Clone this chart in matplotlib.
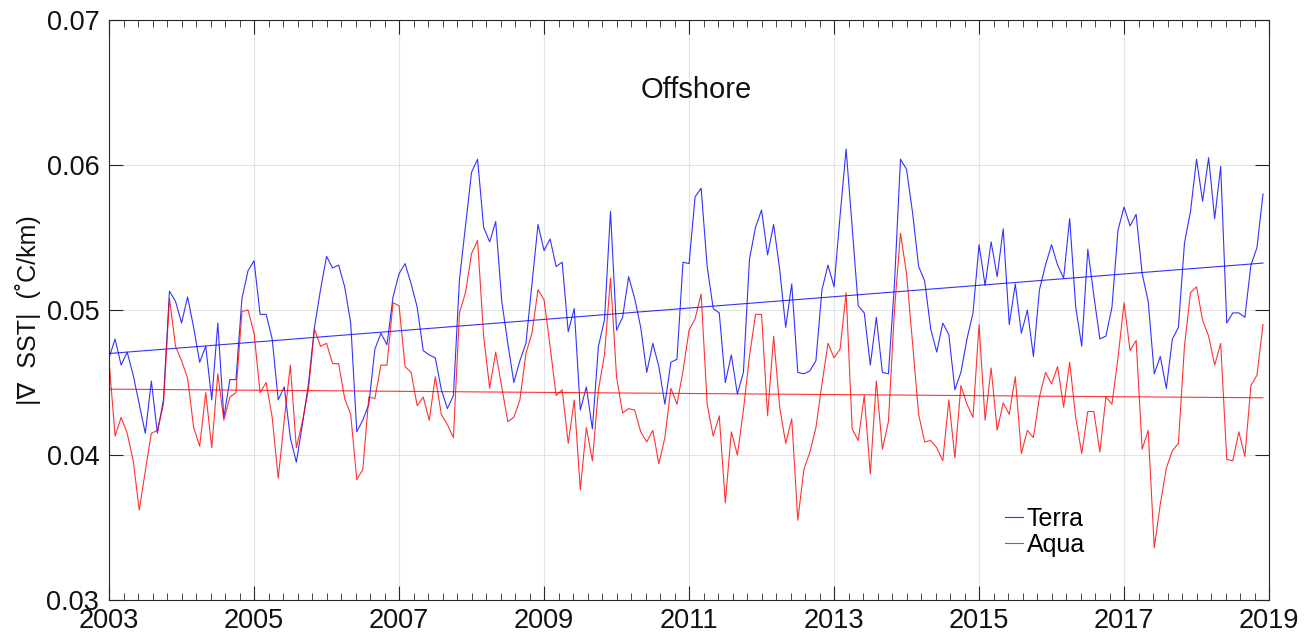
import numpy as np
import matplotlib
matplotlib.use("Agg")
import matplotlib.pyplot as plt
from matplotlib.ticker import MultipleLocator

plt.rcParams['font.family'] = ['Liberation Sans', 'DejaVu Sans']

# Monthly mean |grad SST| (degC/km), Jan 2003 - Dec 2018
start_year = 2003
terra = [
    0.0467, 0.0480, 0.0462, 0.0471, 0.0455, 0.0435, 0.0415, 0.0451, 0.0415, 0.0438, 0.0513, 0.0506,
    0.0491, 0.0509, 0.0488, 0.0464, 0.0475, 0.0438, 0.0491, 0.0426, 0.0452, 0.0452, 0.0508, 0.0527,
    0.0534, 0.0497, 0.0497, 0.0480, 0.0438, 0.0447, 0.0412, 0.0395, 0.0421, 0.0449, 0.0488, 0.0514,
    0.0537, 0.0529, 0.0531, 0.0516, 0.0491, 0.0416, 0.0424, 0.0435, 0.0473, 0.0484, 0.0476, 0.0509,
    0.0525, 0.0532, 0.0518, 0.0502, 0.0472, 0.0469, 0.0467, 0.0445, 0.0432, 0.0441, 0.0521, 0.0558,
    0.0595, 0.0604, 0.0557, 0.0547, 0.0561, 0.0506, 0.0477, 0.0450, 0.0465, 0.0477, 0.0518, 0.0559,
    0.0541, 0.0549, 0.0530, 0.0533, 0.0485, 0.0501, 0.0431, 0.0447, 0.0418, 0.0475, 0.0493, 0.0568,
    0.0486, 0.0495, 0.0523, 0.0508, 0.0488, 0.0457, 0.0477, 0.0461, 0.0435, 0.0464, 0.0466, 0.0533,
    0.0532, 0.0578, 0.0584, 0.0530, 0.0501, 0.0498, 0.0450, 0.0469, 0.0442, 0.0457, 0.0535, 0.0557,
    0.0569, 0.0538, 0.0559, 0.0528, 0.0488, 0.0518, 0.0457, 0.0456, 0.0458, 0.0465, 0.0514, 0.0531,
    0.0516, 0.0565, 0.0611, 0.0557, 0.0503, 0.0498, 0.0462, 0.0495, 0.0457, 0.0456, 0.0518, 0.0604,
    0.0597, 0.0567, 0.0530, 0.0520, 0.0487, 0.0471, 0.0491, 0.0483, 0.0445, 0.0457, 0.0480, 0.0498,
    0.0545, 0.0517, 0.0547, 0.0523, 0.0556, 0.0490, 0.0518, 0.0484, 0.0500, 0.0468, 0.0514, 0.0531,
    0.0545, 0.0531, 0.0522, 0.0563, 0.0502, 0.0475, 0.0542, 0.0510, 0.0480, 0.0482, 0.0502, 0.0555,
    0.0571, 0.0558, 0.0566, 0.0525, 0.0506, 0.0456, 0.0468, 0.0446, 0.0480, 0.0488, 0.0546, 0.0568,
    0.0604, 0.0575, 0.0605, 0.0563, 0.0599, 0.0491, 0.0498, 0.0498, 0.0495, 0.0531, 0.0543, 0.0580,
]
aqua = [
    0.0465, 0.0413, 0.0426, 0.0415, 0.0396, 0.0362, 0.0389, 0.0415, 0.0417, 0.0435, 0.0508, 0.0475,
    0.0465, 0.0453, 0.0419, 0.0406, 0.0443, 0.0405, 0.0456, 0.0424, 0.0440, 0.0443, 0.0499, 0.0500,
    0.0484, 0.0443, 0.0450, 0.0426, 0.0384, 0.0424, 0.0462, 0.0405, 0.0423, 0.0445, 0.0487, 0.0475,
    0.0477, 0.0463, 0.0463, 0.0439, 0.0428, 0.0383, 0.0390, 0.0440, 0.0439, 0.0462, 0.0462, 0.0505,
    0.0503, 0.0461, 0.0457, 0.0434, 0.0440, 0.0424, 0.0454, 0.0428, 0.0421, 0.0412, 0.0498, 0.0512,
    0.0539, 0.0548, 0.0482, 0.0446, 0.0471, 0.0447, 0.0423, 0.0426, 0.0438, 0.0470, 0.0484, 0.0514,
    0.0507, 0.0475, 0.0441, 0.0445, 0.0408, 0.0438, 0.0376, 0.0419, 0.0396, 0.0445, 0.0469, 0.0522,
    0.0454, 0.0429, 0.0432, 0.0431, 0.0416, 0.0409, 0.0417, 0.0394, 0.0412, 0.0446, 0.0435, 0.0458,
    0.0486, 0.0494, 0.0511, 0.0435, 0.0413, 0.0427, 0.0367, 0.0416, 0.0400, 0.0431, 0.0468, 0.0497,
    0.0497, 0.0427, 0.0482, 0.0433, 0.0408, 0.0425, 0.0355, 0.0390, 0.0402, 0.0419, 0.0449, 0.0477,
    0.0467, 0.0473, 0.0512, 0.0418, 0.0410, 0.0441, 0.0387, 0.0451, 0.0404, 0.0423, 0.0500, 0.0553,
    0.0525, 0.0477, 0.0428, 0.0409, 0.0410, 0.0405, 0.0396, 0.0438, 0.0398, 0.0448, 0.0435, 0.0426,
    0.0490, 0.0424, 0.0460, 0.0417, 0.0436, 0.0428, 0.0454, 0.0401, 0.0417, 0.0412, 0.0440, 0.0457,
    0.0449, 0.0461, 0.0433, 0.0464, 0.0426, 0.0401, 0.0430, 0.0430, 0.0402, 0.0440, 0.0435, 0.0467,
    0.0505, 0.0472, 0.0479, 0.0404, 0.0417, 0.0336, 0.0366, 0.0391, 0.0403, 0.0408, 0.0475, 0.0512,
    0.0516, 0.0493, 0.0482, 0.0462, 0.0477, 0.0397, 0.0396, 0.0416, 0.0399, 0.0448, 0.0455, 0.0490,
]
series_names = ["Terra", "Aqua"]
series_colors = ["#0000ff", "#ff0000"]
year_ticks = list(range(2003, 2020, 2))
value_ticks = [0.03, 0.04, 0.05, 0.06, 0.07]
title_text = "Offshore"
ylabel_text = "|\u2207  SST|  (\u02daC/km)"

t = start_year + np.arange(len(terra)) / 12.0

fig = plt.figure(figsize=(13.06, 6.35), dpi=100)
ax = fig.add_axes([0.0835, 0.0551, 0.8882, 0.9134])

handles = []
for vals, name, col in zip([terra, aqua], series_names, series_colors):
    y = np.asarray(vals)
    h, = ax.plot(t, y, color=col, lw=0.8, alpha=0.8, label=name)
    handles.append(h)
    # least-squares linear trend over the record
    p = np.polyfit(t, y, 1)
    ax.plot(t, np.polyval(p, t), color=col, lw=0.8, alpha=0.8)

ax.set_xlim(2003, 2019)
ax.set_ylim(0.03, 0.07)
ax.set_xticks(year_ticks)
ax.set_yticks(value_ticks)
ax.set_yticklabels([f"{v:.2f}" for v in value_ticks])
ax.xaxis.set_minor_locator(MultipleLocator(0.2))

axis_col = "#262626"
for s in ax.spines.values():
    s.set_color(axis_col)
    s.set_linewidth(0.8)
ax.tick_params(which='major', direction='in', length=10, width=0.8, color=axis_col,
               labelsize=19.5, labelcolor='#111111', top=True, right=True, pad=7)
ax.tick_params(which='minor', direction='in', length=5, width=0.6, color=axis_col,
               top=True, bottom=True, left=False, right=False)
ax.tick_params(axis='x', which='major', pad=6)
ax.grid(True, which='major', color='#e3e3e3', lw=0.8)
ax.set_axisbelow(True)

ax.set_ylabel(ylabel_text, fontsize=18, color='#111111', labelpad=4)
ax.text(0.506, 0.88, title_text, transform=ax.transAxes, ha='center', va='center',
        fontsize=21, color='#111111')

leg = ax.legend(handles=handles, loc='upper left', bbox_to_anchor=(0.772, 0.16),
                frameon=False, fontsize=18, handlelength=0.72, handletextpad=0.16,
                labelspacing=0.08, borderpad=0, borderaxespad=0)

fig.savefig("out.png", dpi=100, facecolor='white')
